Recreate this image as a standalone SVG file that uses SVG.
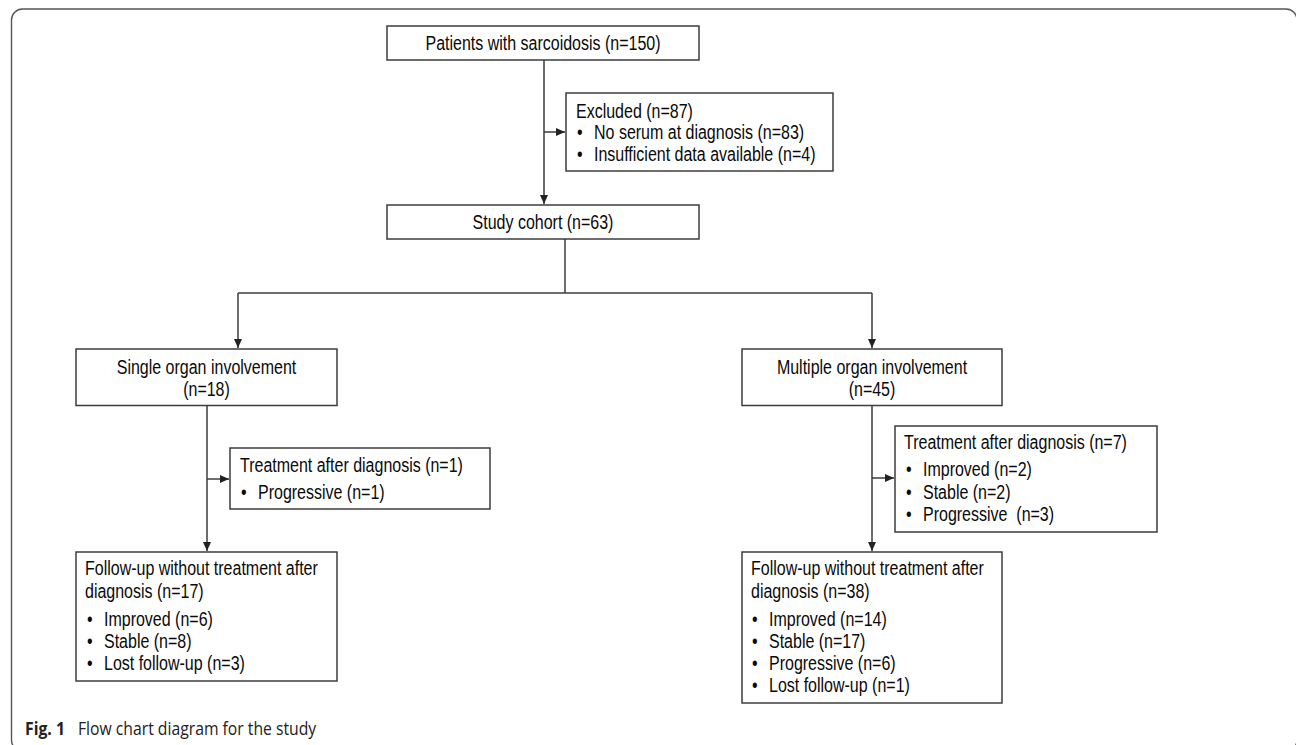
<svg xmlns="http://www.w3.org/2000/svg" width="1296" height="745" viewBox="0 0 1296 745">
<style>
.box{fill:#fff;stroke:#3c3c3c;stroke-width:1.5}
.t{font-family:"Liberation Sans",Arial,sans-serif;font-size:19.4px;fill:#0a0a0a;white-space:pre}
.m{text-anchor:middle}
.ln{fill:none;stroke:#3c3c3c;stroke-width:1.5}
.cap{font-family:"Open Sans","Noto Sans",sans-serif;font-size:17.5px;fill:#222}
</style>
<defs>
<marker id="ah" markerUnits="userSpaceOnUse" markerWidth="10" markerHeight="10" refX="9" refY="4" orient="auto" viewBox="0 0 10 8">
<path d="M0,0 L9,4 L0,8 Z" fill="#222"/>
</marker>
</defs>
<rect x="11.5" y="9" width="1285.5" height="742" rx="11" fill="none" stroke="#555" stroke-width="1.4"/>
<g id="connectors">
<line class="ln" x1="544" y1="60" x2="544" y2="204" marker-end="url(#ah)"/>
<line class="ln" x1="544" y1="132" x2="565" y2="132" marker-end="url(#ah)"/>
<polyline class="ln" points="565,239 565,293"/>
<polyline class="ln" points="238,293 872,293"/>
<line class="ln" x1="238" y1="293" x2="238" y2="348" marker-end="url(#ah)"/>
<line class="ln" x1="872" y1="293" x2="872" y2="348" marker-end="url(#ah)"/>
<line class="ln" x1="207" y1="405.5" x2="207" y2="551" marker-end="url(#ah)"/>
<line class="ln" x1="207" y1="479" x2="229" y2="479" marker-end="url(#ah)"/>
<line class="ln" x1="872" y1="405.5" x2="872" y2="551" marker-end="url(#ah)"/>
<line class="ln" x1="872" y1="478" x2="894" y2="478" marker-end="url(#ah)"/>
</g>
<g id="patients">
<rect class="box" x="387" y="26" width="312" height="34"/>
<text class="t m" transform="translate(543 50) scale(0.825 1)">Patients with sarcoidosis (n=150)</text>
</g>
<g id="excluded">
<rect class="box" x="566" y="93" width="267" height="78"/>
<text class="t" transform="translate(576 117.5) scale(0.825 1)">Excluded (n=87)</text>
<text class="t" transform="translate(577 139) scale(0.825 1)">•</text>
<text class="t" transform="translate(594 139) scale(0.825 1)">No serum at diagnosis (n=83)</text>
<text class="t" transform="translate(577 160.5) scale(0.825 1)">•</text>
<text class="t" transform="translate(594 160.5) scale(0.825 1)">Insufficient data available (n=4)</text>
</g>
<g id="cohort">
<rect class="box" x="387" y="205" width="312" height="34"/>
<text class="t m" transform="translate(543 229) scale(0.825 1)">Study cohort (n=63)</text>
</g>
<g id="single">
<rect class="box" x="76" y="349" width="261" height="56.5"/>
<text class="t m" transform="translate(206.5 373.5) scale(0.825 1)">Single organ involvement</text>
<text class="t m" transform="translate(206.5 395.5) scale(0.825 1)">(n=18)</text>
</g>
<g id="multiple">
<rect class="box" x="742" y="349" width="260" height="56.5"/>
<text class="t m" transform="translate(872 373.5) scale(0.825 1)">Multiple organ involvement</text>
<text class="t m" transform="translate(872 395.5) scale(0.825 1)">(n=45)</text>
</g>
<g id="treat1">
<rect class="box" x="230" y="448" width="260" height="61"/>
<text class="t" transform="translate(240 471.5) scale(0.825 1)">Treatment after diagnosis (n=1)</text>
<text class="t" transform="translate(241 499) scale(0.825 1)">•</text>
<text class="t" transform="translate(258 499) scale(0.825 1)">Progressive (n=1)</text>
</g>
<g id="treat7">
<rect class="box" x="895" y="426" width="262" height="106"/>
<text class="t" transform="translate(904 448.5) scale(0.825 1)">Treatment after diagnosis (n=7)</text>
<text class="t" transform="translate(906 476) scale(0.825 1)">•</text>
<text class="t" transform="translate(923 476) scale(0.825 1)">Improved (n=2)</text>
<text class="t" transform="translate(906 498.5) scale(0.825 1)">•</text>
<text class="t" transform="translate(923 498.5) scale(0.825 1)">Stable (n=2)</text>
<text class="t" transform="translate(906 520.5) scale(0.825 1)">•</text>
<text class="t" transform="translate(923 520.5) scale(0.825 1)">Progressive  (n=3)</text>
</g>
<g id="followup1">
<rect class="box" x="76" y="552" width="261" height="129"/>
<text class="t" transform="translate(85 575) scale(0.825 1)">Follow-up without treatment after</text>
<text class="t" transform="translate(85 597.5) scale(0.825 1)">diagnosis (n=17)</text>
<text class="t" transform="translate(87 625.5) scale(0.825 1)">•</text>
<text class="t" transform="translate(104 625.5) scale(0.825 1)">Improved (n=6)</text>
<text class="t" transform="translate(87 647.5) scale(0.825 1)">•</text>
<text class="t" transform="translate(104 647.5) scale(0.825 1)">Stable (n=8)</text>
<text class="t" transform="translate(87 670) scale(0.825 1)">•</text>
<text class="t" transform="translate(104 670) scale(0.825 1)">Lost follow-up (n=3)</text>
</g>
<g id="followup2">
<rect class="box" x="742" y="552" width="260" height="151"/>
<text class="t" transform="translate(751 575) scale(0.825 1)">Follow-up without treatment after</text>
<text class="t" transform="translate(751 597.5) scale(0.825 1)">diagnosis (n=38)</text>
<text class="t" transform="translate(752 625.5) scale(0.825 1)">•</text>
<text class="t" transform="translate(769 625.5) scale(0.825 1)">Improved (n=14)</text>
<text class="t" transform="translate(752 647.5) scale(0.825 1)">•</text>
<text class="t" transform="translate(769 647.5) scale(0.825 1)">Stable (n=17)</text>
<text class="t" transform="translate(752 670) scale(0.825 1)">•</text>
<text class="t" transform="translate(769 670) scale(0.825 1)">Progressive (n=6)</text>
<text class="t" transform="translate(752 692) scale(0.825 1)">•</text>
<text class="t" transform="translate(769 692) scale(0.825 1)">Lost follow-up (n=1)</text>
</g>
<g id="caption">
<text class="cap" transform="translate(25 735) scale(0.9 1)"><tspan font-weight="bold">Fig. 1</tspan></text>
<text class="cap" transform="translate(78 735) scale(0.9 1)">Flow chart diagram for the study</text>
</g>
</svg>
